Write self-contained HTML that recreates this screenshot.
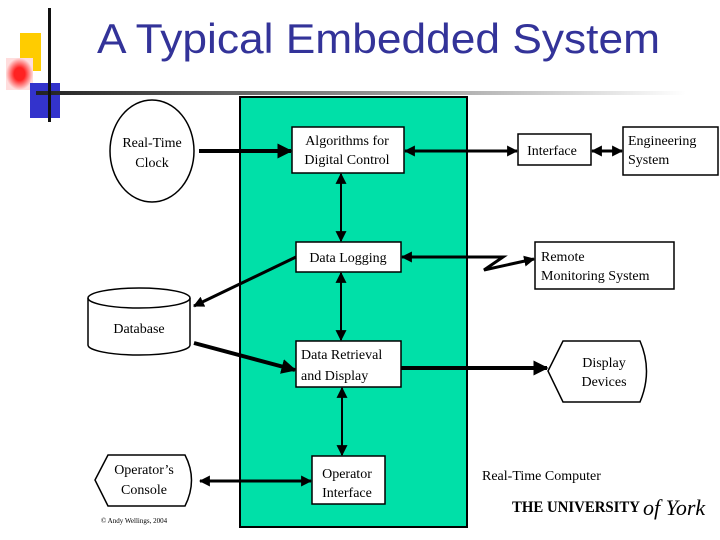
<!DOCTYPE html>
<html><head><meta charset="utf-8"><style>
html,body{margin:0;padding:0;background:#fff;}
svg{display:block}
text{font-family:"Liberation Serif",serif;font-size:14px;fill:#000}
</style></head><body>
<svg width="720" height="540" viewBox="0 0 720 540" xmlns="http://www.w3.org/2000/svg">
<defs>
<linearGradient id="hl" x1="0" x2="1"><stop offset="0" stop-color="#222"/><stop offset="0.4" stop-color="#777"/><stop offset="1" stop-color="#fff"/></linearGradient>
<radialGradient id="rd"><stop offset="0.4" stop-color="#f22"/><stop offset="1" stop-color="#fdd"/></radialGradient>
<marker id="s" viewBox="0 0 10 10" refX="9" refY="5" markerUnits="userSpaceOnUse" markerWidth="15" markerHeight="15" orient="auto-start-reverse"><path d="M0,0L10,5L0,10z" fill="#000"/></marker>
<marker id="m" viewBox="0 0 10 10" refX="9" refY="5" markerUnits="userSpaceOnUse" markerWidth="11" markerHeight="11" orient="auto-start-reverse"><path d="M0,0L10,5L0,10z" fill="#000"/></marker>
</defs>
<rect x="20" y="33" width="21" height="38" fill="#fc0"/>
<rect x="6" y="58" width="27" height="32" fill="url(#rd)"/>
<rect x="30" y="83" width="30" height="35" fill="#33c"/>
<rect x="36" y="91" width="650" height="4" fill="url(#hl)"/>
<rect x="48" y="8" width="3" height="114" fill="#111"/>
<text x="97" y="53" textLength="563" lengthAdjust="spacingAndGlyphs" style="font-family:'Liberation Sans',sans-serif;font-size:42px;fill:#333399">A Typical Embedded  System</text>
<rect x="240" y="97" width="227" height="430" fill="#00e0a8" stroke="#000" stroke-width="2"/>
<g fill="#fff" stroke="#000" stroke-width="1.5">
<ellipse cx="152" cy="151" rx="42" ry="51"/>
<rect x="292" y="127" width="112" height="46"/>
<rect x="296" y="242" width="105" height="30"/>
<rect x="296" y="341" width="105" height="46"/>
<rect x="312" y="456" width="73" height="48"/>
<rect x="518" y="134" width="73" height="31"/>
<rect x="623" y="127" width="95" height="48"/>
<rect x="535" y="242" width="139" height="47"/>
<path d="M88,298 A51,10 0 0 1 190,298 L190,345 A51,10 0 0 1 88,345 Z"/>
<path d="M88,298 A51,10 0 0 0 190,298" fill="none"/>
<path d="M563,341 L640,341 Q653,371 640,402 L563,402 L548,371 Z"/>
<path d="M108,455 L185,455 Q198,480 185,506 L108,506 L95,480 Z"/>
</g>
<g stroke="#000" fill="none">
<line x1="199" y1="151" x2="291" y2="151" stroke-width="4" marker-end="url(#s)"/>
<line x1="405" y1="151" x2="517" y2="151" stroke-width="3" marker-start="url(#m)" marker-end="url(#m)"/>
<line x1="592" y1="151" x2="622" y2="151" stroke-width="3" marker-start="url(#m)" marker-end="url(#m)"/>
<line x1="341" y1="174" x2="341" y2="241" stroke-width="2" marker-start="url(#m)" marker-end="url(#m)"/>
<line x1="341" y1="273" x2="341" y2="340" stroke-width="2" marker-start="url(#m)" marker-end="url(#m)"/>
<line x1="342" y1="388" x2="342" y2="455" stroke-width="2" marker-start="url(#m)" marker-end="url(#m)"/>
<path d="M402,257 L503,257 L484,270 L534,259" stroke-width="3" marker-start="url(#m)" marker-end="url(#m)"/>
<line x1="296" y1="257" x2="194" y2="306" stroke-width="3" marker-end="url(#m)"/>
<line x1="194" y1="343" x2="295" y2="370" stroke-width="4" marker-end="url(#s)"/>
<line x1="401" y1="368" x2="547" y2="368" stroke-width="4" marker-end="url(#s)"/>
<line x1="200" y1="481" x2="311" y2="481" stroke-width="3" marker-start="url(#m)" marker-end="url(#m)"/>
</g>
<text x="152" y="147" text-anchor="middle">Real-Time</text>
<text x="152" y="167" text-anchor="middle">Clock</text>
<text x="347" y="145" text-anchor="middle">Algorithms for</text>
<text x="347" y="164" text-anchor="middle">Digital Control</text>
<text x="348" y="262" text-anchor="middle">Data Logging</text>
<text x="301" y="359">Data Retrieval</text>
<text x="301" y="380">and Display</text>
<text x="347" y="478" text-anchor="middle">Operator</text>
<text x="347" y="497" text-anchor="middle">Interface</text>
<text x="552" y="155" text-anchor="middle">Interface</text>
<text x="628" y="145">Engineering</text>
<text x="628" y="164">System</text>
<text x="541" y="261">Remote</text>
<text x="541" y="280">Monitoring System</text>
<text x="139" y="333" text-anchor="middle">Database</text>
<text x="604" y="367" text-anchor="middle">Display</text>
<text x="604" y="386" text-anchor="middle">Devices</text>
<text x="144" y="474" text-anchor="middle">Operator’s</text>
<text x="144" y="494" text-anchor="middle">Console</text>
<text x="482" y="480">Real-Time Computer</text>
<text x="101" y="523" style="font-size:7px">© Andy Wellings, 2004</text>
<text x="512" y="512" textLength="128" lengthAdjust="spacingAndGlyphs" style="font-size:16px;font-weight:bold">THE UNIVERSITY</text>
<text x="643" y="515" style="font-size:22px;font-style:italic">of York</text>
</svg>
</body></html>
